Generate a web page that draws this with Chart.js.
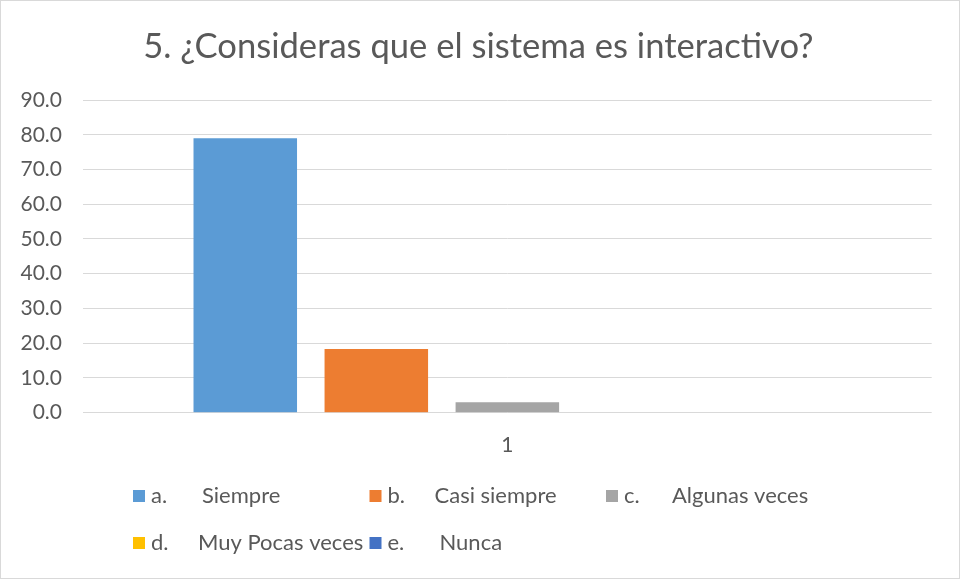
<!DOCTYPE html>
<html>
<head>
<meta charset="utf-8">
<script src="https://cdn.jsdelivr.net/npm/chart.js@4/dist/chart.umd.min.js"></script>
<style>
html,body{margin:0;padding:0;background:#fff;}
#c{display:block;}
</style>
</head>
<body>
<canvas id="c" width="960" height="579"></canvas>
<script>
const title = "5. ¿Consideras que el sistema es interactivo?";
const categories = ["1"];
const seriesPrefixes = ["a.", "b.", "c.", "d.", "e."];
const seriesNames = ["Siempre", "Casi siempre", "Algunas veces", "Muy Pocas veces", "Nunca"];
const seriesValues = [[79.0], [18.3], [3.0], [0], [0]];
const seriesColors = ["#5B9BD5", "#ED7D31", "#A5A5A5", "#FFC000", "#4472C4"];
const yTicks = [0, 10, 20, 30, 40, 50, 60, 70, 80, 90];

const FONT = "Lato, 'Open Sans', sans-serif";
const TEXT = "#595959";

const datasets = seriesNames.map((n, i) => ({
  label: seriesPrefixes[i] + "\t" + n,
  data: seriesValues[i],
  backgroundColor: seriesColors[i],
  borderWidth: 0
}));

const tabOffsets = [51, 47, 48, 47, 52];

const customLegend = {
  id: 'customLegend',
  afterDraw(chart) {
    const ctx = chart.ctx;
    ctx.save();
    ctx.font = "22px " + FONT;
    ctx.fillStyle = TEXT;
    ctx.textBaseline = 'middle';
    const colStart = 133, colW = 236.5, rowY = [496, 543], perRow = 3;
    chart.data.datasets.forEach((ds, i) => {
      const r = Math.floor(i / perRow), c = i % perRow;
      const x = colStart + c * colW, y = rowY[r];
      ctx.fillStyle = ds.backgroundColor;
      ctx.fillRect(x, y - 6, 12, 12);
      ctx.fillStyle = TEXT;
      ctx.fillText(seriesPrefixes[i], x + 18, y);
      ctx.fillText(seriesNames[i], x + 18 + tabOffsets[i], y);
    });
    ctx.restore();
  }
};

const titleShift = {
  id: 'titleShift',
  afterLayout(chart) {
    const t = chart.titleBlock;
    if (t) { t.left += 12.5; t.right += 12.5; }
  }
};

const borderPlugin = {
  id: 'borderPlugin',
  afterDraw(chart) {
    const ctx = chart.ctx;
    ctx.save();
    ctx.strokeStyle = '#D9D9D9';
    ctx.lineWidth = 1;
    ctx.strokeRect(0.5, 0.5, chart.width - 1, chart.height - 1);
    ctx.restore();
  }
};

new Chart(document.getElementById('c'), {
  type: 'bar',
  data: { labels: categories, datasets },
  options: {
    responsive: false,
    animation: false,
    devicePixelRatio: 1,
    layout: { padding: { left: 0, right: 28.3, top: 0, bottom: 0 } },
    datasets: { bar: { categoryPercentage: 0.772, barPercentage: 0.79 } },
    plugins: {
      legend: { display: false },
      tooltip: { enabled: false },
      title: {
        display: true,
        text: title,
        color: TEXT,
        font: { family: FONT, size: 34.6, weight: 'normal' },
        padding: { top: 26.3, bottom: 32.2 }
      }
    },
    scales: {
      x: {
        grid: { display: false, drawTicks: false },
        border: { display: false },
        ticks: { color: TEXT, font: { family: FONT, size: 21 }, padding: 20 },
        afterFit(s) { s.height = 166.3; }
      },
      y: {
        min: 0, max: 90,
        afterBuildTicks(s) { s.ticks = yTicks.map(v => ({ value: v })); },
        grid: { color: '#D9D9D9', lineWidth: 1, drawTicks: false },
        border: { display: false },
        ticks: {
          color: TEXT, font: { family: FONT, size: 21 }, padding: 21,
          callback: v => Number(v).toFixed(1)
        },
        afterFit(s) { s.width = 83; }
      }
    }
  },
  plugins: [customLegend, titleShift, borderPlugin]
});
</script>
</body>
</html>
